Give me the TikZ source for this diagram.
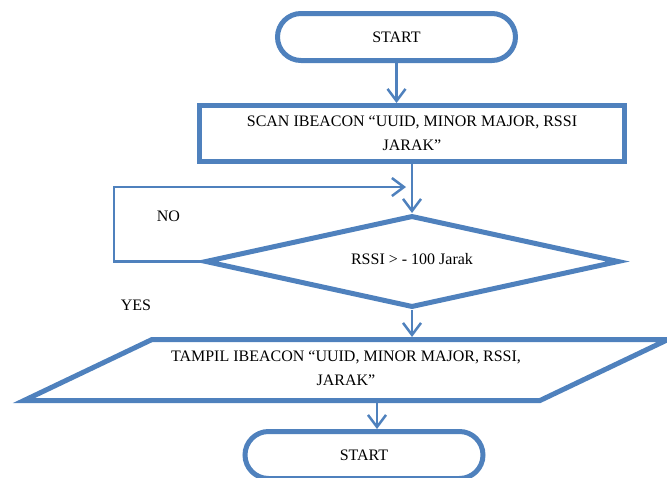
\documentclass[tikz,border=0pt]{standalone}
\usepackage{fontspec}
\setmainfont{Liberation Serif}
\usetikzlibrary{arrows.meta,shapes.geometric}
\definecolor{fc}{HTML}{4F81BD}
\begin{document}
\begin{tikzpicture}[x=1pt,y=-1pt,
  every node/.style={font=\fontsize{16}{24}\selectfont, text=black},
  shp/.style={draw=fc, line width=5pt, fill=white, inner sep=0pt},
  shpline/.style={draw=fc, line width=5pt, line join=miter},
  term/.style={shp, rectangle, rounded corners=23.5pt, minimum width=238pt, minimum height=47pt},
  proc/.style={shp, rectangle, minimum width=425pt, minimum height=56pt, align=center},
  decision/.style={shp, diamond, aspect=4.5, minimum width=414pt, minimum height=92pt},
  iobox/.style={rectangle, inner sep=0pt, outer sep=0pt, minimum width=644pt, minimum height=61pt, align=center},
  conn/.style={draw=fc, line width=2.5pt, -{Straight Barb[length=12pt,width=18pt]}},
  lbl/.style={inner sep=0pt}
]
\useasboundingbox (0,0) rectangle (667,477);
\node[term] (start1) at (396.5,37) {START};
\node[proc] (scan) at (412,133.5) {SCAN IBEACON “UUID, MINOR MAJOR, RSSI\\JARAK”};
\node[decision] (dec) at (412,261.5) {\raisebox{5pt}{RSSI > - 100 Jarak}};
\node[iobox] (out) at (346,368) {TAMPIL IBEACON “UUID, MINOR MAJOR, RSSI,\\JARAK”};
\draw[shpline] ([xshift=128pt,yshift=-2pt]out.north west) -- ([yshift=-2pt]out.north east)
  -- ([xshift=-128pt,yshift=-2pt]out.south east) -- ([yshift=-2pt]out.south west) -- cycle;
\node[term] (endn) at (364,455) {START};
\node[lbl] (no) at (168.5,216) {NO};
\node[lbl] (yes) at (136,305) {YES};
\coordinate (lp) at (114,187);
\coordinate (lend) at (406,187);
\coordinate (ax) at (377,0);
\draw[conn] (start1.south) -- (start1.south |- scan.north);
\draw[conn] (scan.south -| dec.north) -- (dec.north);
\draw[conn] (dec.west) -| (lp) -- (lend);
\draw[conn] (dec.south) -- ([yshift=0.5pt]dec.south |- out.north);
\draw[conn] ([yshift=-2pt]out.south -| ax) -- (endn.north -| ax);
\end{tikzpicture}
\end{document}
